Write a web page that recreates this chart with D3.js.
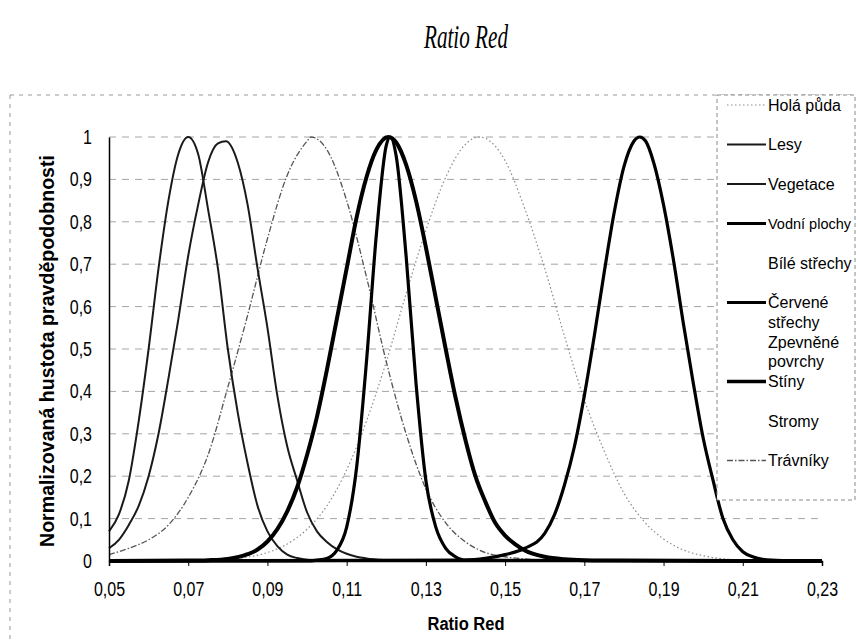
<!DOCTYPE html>
<html><head><meta charset="utf-8">
<script src="https://cdn.jsdelivr.net/npm/d3@7"></script>
<style>body{margin:0;background:#fff}svg{display:block}</style>
</head><body><svg id="c" width="856" height="640"></svg>
<script>
// ---- data ----
const xTicks = [0.05,0.07,0.09,0.11,0.13,0.15,0.17,0.19,0.21,0.23];
const xTickLabels = ["0,05","0,07","0,09","0,11","0,13","0,15","0,17","0,19","0,21","0,23"];
const yTicks = [0,0.1,0.2,0.3,0.4,0.5,0.6,0.7,0.8,0.9,1];
const yTickLabels = ["0","0,1","0,2","0,3","0,4","0,5","0,6","0,7","0,8","0,9","1"];

const xHola = [0.05,0.07,0.08,0.085,0.09,0.095,0.1,0.105,0.11,0.115,0.12,0.125,0.13,0.135,0.14,0.1435,0.145,0.15,0.155,0.16,0.165,0.17,0.175,0.18,0.185,0.19,0.195,0.2,0.205,0.21,0.215,0.22,0.23];
const yHola = [0,0.001,0.004,0.009,0.02,0.04,0.075,0.13,0.215,0.33,0.47,0.63,0.78,0.905,0.983,1.0,0.997,0.944,0.83,0.69,0.53,0.38,0.26,0.16,0.094,0.052,0.026,0.0125,0.005,0.002,0.001,0,0];

const xLesy = [0.05,0.0525,0.055,0.0575,0.06,0.0625,0.065,0.0675,0.07,0.0725,0.075,0.0775,0.08,0.0825,0.085,0.0875,0.09,0.0925,0.095,0.0975,0.10,0.105,0.11,0.23];
const yLesy = [0.07,0.11,0.19,0.33,0.50,0.69,0.85,0.96,1.00,0.96,0.83,0.69,0.50,0.35,0.23,0.13,0.07,0.035,0.015,0.007,0.003,0.001,0,0];

const xVeg = [0.05,0.0525,0.055,0.0575,0.06,0.0625,0.065,0.0675,0.07,0.0725,0.075,0.0775,0.0795,0.0825,0.085,0.0875,0.09,0.0925,0.095,0.0975,0.10,0.1025,0.105,0.1075,0.11,0.1125,0.115,0.12,0.125,0.23];
const yVeg = [0.03,0.05,0.085,0.13,0.20,0.30,0.43,0.57,0.72,0.84,0.94,0.985,0.99,0.94,0.84,0.69,0.55,0.39,0.27,0.19,0.115,0.07,0.045,0.028,0.017,0.01,0.006,0.002,0,0];

const xVod = [0.05,0.1,0.1025,0.105,0.1075,0.11,0.1125,0.115,0.1175,0.12,0.121,0.1225,0.125,0.1275,0.13,0.1325,0.135,0.1375,0.14,0.23];
const yVod = [0,0,0.002,0.006,0.025,0.08,0.22,0.47,0.77,0.98,1.0,0.955,0.72,0.42,0.19,0.08,0.03,0.01,0.002,0];

const xCerv = [0.05,0.14,0.145,0.15,0.155,0.16,0.1625,0.165,0.1675,0.17,0.1725,0.175,0.1775,0.18,0.1825,0.184,0.1855,0.1875,0.19,0.1925,0.195,0.1975,0.2,0.2025,0.205,0.2075,0.21,0.2125,0.215,0.22,0.23];
const yCerv = [0,0.002,0.006,0.015,0.03,0.065,0.11,0.18,0.27,0.39,0.53,0.68,0.82,0.93,0.99,1.0,0.99,0.94,0.84,0.71,0.56,0.42,0.29,0.19,0.10,0.05,0.022,0.01,0.004,0.001,0];

const xStiny = [0.05,0.07,0.075,0.08,0.085,0.0875,0.09,0.0925,0.095,0.0975,0.1,0.1025,0.105,0.1075,0.11,0.1125,0.115,0.1175,0.1205,0.1225,0.125,0.1275,0.13,0.1325,0.135,0.1375,0.14,0.1425,0.145,0.1475,0.15,0.1525,0.155,0.16,0.165,0.17,0.18,0.23];
const yStiny = [0,0.001,0.002,0.005,0.016,0.027,0.046,0.075,0.117,0.174,0.25,0.34,0.45,0.57,0.69,0.81,0.905,0.97,1.0,0.987,0.935,0.85,0.74,0.62,0.50,0.385,0.285,0.20,0.14,0.09,0.06,0.04,0.025,0.01,0.004,0.002,0.001,0];

const xTrav = [0.05,0.055,0.06,0.065,0.07,0.075,0.08,0.085,0.09,0.095,0.1,0.101,0.105,0.11,0.115,0.12,0.125,0.13,0.135,0.14,0.145,0.15,0.155,0.16,0.23];
const yTrav = [0.015,0.03,0.05,0.085,0.15,0.25,0.41,0.58,0.76,0.91,0.99,1.0,0.97,0.85,0.67,0.47,0.30,0.17,0.09,0.045,0.02,0.01,0.005,0.002,0];

const legendNames = ["Holá půda","Lesy","Vegetace","Vodní plochy","Bílé střechy","Červené střechy","Zpevněné povrchy","Stíny","Stromy","Trávníky"];
const legendLines = [["Holá půda"],["Lesy"],["Vegetace"],["Vodní plochy"],["Bílé střechy"],["Červené","střechy"],["Zpevněné","povrchy"],["Stíny"],["Stromy"],["Trávníky"]];

// ---- styles ----
const styles = {
  "Holá půda": {stroke:"#8a8a8a", w:1.2, dash:"1.5,2.5"},
  "Lesy": {stroke:"#1a1a1a", w:2, dash:null},
  "Vegetace": {stroke:"#1a1a1a", w:2, dash:null},
  "Vodní plochy": {stroke:"#000", w:3.2, dash:null},
  "Bílé střechy": null,
  "Červené střechy": {stroke:"#000", w:3.2, dash:null},
  "Zpevněné povrchy": null,
  "Stíny": {stroke:"#000", w:4, dash:null},
  "Stromy": null,
  "Trávníky": {stroke:"#555", w:1.3, dash:"6,2,1.5,2"}
};
const series = [
  {name:"Holá půda", xs:xHola, ys:yHola},
  {name:"Trávníky", xs:xTrav, ys:yTrav},
  {name:"Lesy", xs:xLesy, ys:yLesy},
  {name:"Vegetace", xs:xVeg, ys:yVeg},
  {name:"Vodní plochy", xs:xVod, ys:yVod},
  {name:"Stíny", xs:xStiny, ys:yStiny},
  {name:"Červené střechy", xs:xCerv, ys:yCerv}
];

const svg = d3.select("#c");
const x = d3.scaleLinear().domain([0.05,0.23]).range([109,822]);
const y = d3.scaleLinear().domain([0,1]).range([561,137]);
const FONT = "'Liberation Sans', Arial, Helvetica, sans-serif";

// outer dashed border
svg.append("line").attr("x1",10).attr("x2",856).attr("y1",95).attr("y2",95)
  .attr("stroke","#999").attr("stroke-dasharray","4,5");
svg.append("line").attr("x1",10).attr("x2",10).attr("y1",95).attr("y2",640)
  .attr("stroke","#999").attr("stroke-dasharray","4,5");

// gridlines
svg.append("g").selectAll("line").data(yTicks.filter(d=>d>0)).join("line")
  .attr("x1",109).attr("x2",822).attr("y1",d=>y(d)).attr("y2",d=>y(d))
  .attr("stroke","#a5a5a5").attr("stroke-width",1).attr("stroke-dasharray","7,6");

// curves
const line = d3.line().x(d=>x(d[0])).y(d=>y(d[1])).curve(d3.curveMonotoneX);
series.forEach(s=>{
  const st = styles[s.name];
  svg.append("path").datum(s.xs.map((v,i)=>[v,s.ys[i]]))
    .attr("d",line).attr("fill","none").attr("stroke",st.stroke)
    .attr("stroke-width",st.w).attr("stroke-dasharray",st.dash)
    .attr("stroke-linejoin","round");
});

// axes
const xAxis = svg.append("g").attr("transform","translate(0,561)")
  .call(d3.axisBottom(x).tickValues(xTicks).tickFormat((d,i)=>xTickLabels[i]).tickSize(5).tickPadding(16));
xAxis.select(".domain").attr("stroke","#000").attr("stroke-width",1.5);
xAxis.selectAll(".tick line").attr("stroke","#000");
xAxis.selectAll(".tick text").attr("font-family",FONT).attr("font-size",20)
  .attr("fill","#000").attr("transform","scale(0.8,1)");

const yAxis = svg.append("g").attr("transform","translate(109,0)")
  .call(d3.axisLeft(y).tickValues(yTicks).tickFormat((d,i)=>yTickLabels[i]).tickSize(0).tickPadding(17));
yAxis.select(".domain").attr("stroke","#000").attr("stroke-width",1.5);
yAxis.selectAll(".tick text").attr("font-family",FONT).attr("font-size",20)
  .attr("fill","#000").attr("transform","scale(0.8,1)");
yAxis.selectAll(".tick text").attr("x",-17/0.8);

// titles
svg.append("text").attr("x",466).attr("y",48).attr("text-anchor","middle")
  .attr("font-family","'Liberation Serif','Times New Roman',serif").attr("font-style","italic")
  .attr("font-size",34).attr("textLength",84).attr("lengthAdjust","spacingAndGlyphs")
  .text("Ratio Red");
svg.append("text").attr("x",466).attr("y",630).attr("text-anchor","middle")
  .attr("font-family",FONT).attr("font-weight","bold").attr("font-size",18)
  .attr("textLength",77).attr("lengthAdjust","spacingAndGlyphs").text("Ratio Red");
svg.append("text").attr("transform","translate(54,351) rotate(-90)").attr("text-anchor","middle")
  .attr("font-family",FONT).attr("font-weight","bold").attr("font-size",20)
  .attr("textLength",392).attr("lengthAdjust","spacingAndGlyphs")
  .text("Normalizovaná hustota pravděpodobnosti");

// legend
const lg = svg.append("g");
lg.append("rect").attr("x",717).attr("y",95).attr("width",138).attr("height",405)
  .attr("fill","#fff").attr("stroke","#888").attr("stroke-dasharray","4,3");
legendNames.forEach((n,i)=>{
  const yy = 105 + i*39.5;
  const st = styles[n];
  if (st) {
    lg.append("line").attr("x1",727).attr("x2",766).attr("y1",yy).attr("y2",yy)
      .attr("stroke",st.stroke).attr("stroke-width",Math.min(st.w,3.3)).attr("stroke-dasharray",st.dash);
  }
  legendLines[i].forEach((t,j)=>{
    lg.append("text").attr("x",768).attr("y",yy + j*19.5).attr("dy","0.36em")
      .attr("font-family",FONT).attr("font-size", t==="Vodní plochy" ? 14.5 : 16).attr("fill","#000")
      .text(t);
  });
});
</script></body></html>
